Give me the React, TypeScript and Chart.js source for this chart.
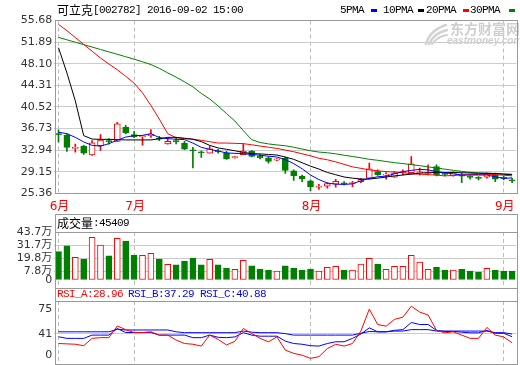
import React, { useEffect, useRef } from "react";
import { Chart, registerables } from "chart.js";

Chart.register(...registerables);

// ---------- data ----------
const dates = [
  "06-20","06-21","06-22","06-23","06-24","06-27","06-28","06-29","06-30",
  "07-01","07-04","07-05","07-06","07-07","07-08","07-11","07-12","07-13","07-14","07-15",
  "07-18","07-19","07-20","07-21","07-22","07-25","07-26","07-27","07-28","07-29",
  "08-01","08-02","08-03","08-04","08-05","08-08","08-09","08-10","08-11","08-12",
  "08-15","08-16","08-17","08-18","08-19","08-22","08-23","08-24","08-25","08-26",
  "08-29","08-30","08-31","09-01","09-02",
];

const opens = [
  35.85,35.62,33.28,33.68,32.10,33.73,34.62,34.49,36.96,35.67,
  35.32,35.50,35.06,34.03,34.56,34.21,33.03,32.62,32.41,32.80,
  32.45,31.62,32.15,32.77,31.88,31.62,31.18,31.53,29.33,28.39,
  27.56,26.46,26.63,26.98,27.16,27.12,27.44,28.04,29.20,28.59,
  28.22,28.98,29.03,28.98,28.89,30.09,28.80,28.45,28.48,28.27,
  28.09,28.22,28.62,28.09,27.65,
];
const highs = [
  36.50,35.80,34.00,33.82,34.62,35.67,34.97,37.82,37.31,36.26,
  35.55,36.56,35.37,35.09,35.09,34.49,33.47,32.85,33.65,33.12,
  32.73,31.88,34.09,32.94,32.24,31.85,31.50,31.74,29.50,28.57,
  27.74,26.95,27.26,27.83,27.44,27.48,28.04,30.69,29.50,29.03,
  29.20,29.50,31.85,29.80,30.38,30.38,29.03,29.15,28.92,28.45,
  28.33,28.92,28.92,28.36,28.04,
];
const lows = [
  34.40,32.73,32.59,32.22,32.05,32.91,34.00,34.44,35.80,35.14,
  33.82,35.20,34.62,34.00,34.03,33.03,29.86,31.67,32.41,32.41,
  31.32,31.57,32.15,31.79,31.44,30.69,31.10,28.89,27.65,27.42,
  25.86,26.07,26.28,26.46,26.86,26.56,27.26,27.86,28.53,27.86,
  28.20,28.62,28.92,28.62,28.62,28.45,28.45,28.39,27.26,27.86,
  27.74,28.04,27.44,27.74,27.26,
];
const closes = [
  35.67,33.44,33.38,32.45,34.26,34.74,34.44,37.58,35.97,35.32,
  35.41,35.76,34.88,34.49,34.44,33.12,32.85,32.50,33.21,32.68,
  31.44,31.83,32.80,31.88,31.62,31.00,31.44,29.42,28.48,27.95,
  26.51,26.54,27.12,27.48,27.07,27.21,27.86,29.68,28.62,28.66,
  28.92,29.06,30.56,29.06,28.98,28.62,28.71,29.03,28.39,28.18,
  28.00,28.75,27.86,28.00,27.56,
];

const ma5 = [
  36.1,35.85,35.2,34.4,33.8,33.65,34.1,34.7,35.25,35.5,
  35.55,35.85,35.15,34.98,34.86,34.8,34.2,33.45,33.1,32.8,
  32.47,32.4,32.36,32.2,32.06,31.9,31.76,31.3,30.6,29.7,
  28.6,27.8,27.2,27.0,26.95,27.05,27.6,28.0,28.3,28.4,
  28.8,29.2,29.4,29.6,29.5,29.2,29.0,28.8,28.6,28.6,
  28.6,28.6,28.3,28.0,28.1,
];
const ma10 = [
  50.9,46.5,41.6,35.5,34.9,34.85,34.85,34.8,34.75,34.75,
  34.75,34.75,34.95,35.2,35.2,35.05,34.85,34.45,33.8,33.35,
  33.1,32.85,32.55,32.35,32.3,32.2,32.1,31.75,31.35,30.75,
  30.15,29.65,29.05,28.65,28.25,28.05,27.9,27.9,28.05,28.25,
  28.45,28.6,28.75,28.95,29.0,29.05,29.05,29.05,29.0,28.95,
  28.9,28.9,28.85,28.75,28.65,
];
const ma20 = [
  55.0,53.9,52.7,51.5,50.3,49.1,48.05,47.05,45.9,44.7,
  43.0,40.8,38.4,35.85,35.15,34.95,34.9,34.67,34.44,34.2,
  34.2,34.15,34.1,33.9,33.68,33.47,33.26,32.97,32.68,32.32,
  31.97,31.53,31.27,30.9,30.47,30.03,29.77,29.5,29.33,29.2,
  29.12,29.03,28.8,28.75,28.66,28.57,28.45,28.53,28.62,28.66,
  28.7,28.75,28.66,28.57,28.45,
];
const ma30 = [
  52.72,52.3,51.87,51.45,51.03,50.6,50.18,49.76,49.33,48.9,
  48.45,47.96,47.3,46.5,45.76,44.93,44.05,42.9,41.93,40.7,
  39.38,38.05,36.38,34.79,34.3,34.05,33.87,33.73,33.47,33.15,
  32.85,32.62,32.5,32.32,32.06,31.85,31.62,31.35,31.18,30.97,
  30.77,30.6,30.42,30.24,30.03,29.82,29.63,29.42,29.24,29.06,
  28.97,28.92,28.87,28.8,28.75,
];

// volume in 万
const volumes = [
  25.8,31.0,20.6,19.1,38.9,31.9,21.9,38.0,35.5,22.8,
  22.5,24.3,19.1,14.3,13.7,17.3,20.0,13.7,18.8,13.7,
  10.9,9.7,17.9,12.8,10.0,9.1,8.2,12.8,10.9,9.1,
  10.0,8.2,11.5,12.5,9.1,9.1,14.6,19.7,14.6,9.7,
  12.5,12.5,22.5,16.4,9.7,11.5,9.1,9.1,9.7,8.2,
  7.3,10.6,9.1,8.2,8.2,
];

const rsiA = [
  28,27.5,27,25,35,36,36,52,47,43,
  43,44,39.5,39.5,32.7,28,27,24.5,39.5,33.6,
  26,31,48.5,41.7,35,30.4,37,19,14.5,12,
  7.7,10,21,27,24.5,28,45,75,54,51.7,
  61,64,79,71,67,46,42.6,44,39.5,35,
  35,50,39.5,37,28.96,
];
const rsiB = [
  37.2,35,35,35,39.5,39.5,39.5,48.5,43,43,
  43,43,39.5,39.5,39.5,39.5,36,36,39.5,36.5,
  36,37,42.8,39.5,38,38,38,31.3,28,27,
  25,24.5,28,30.4,30.4,35,41,49.4,44,44,
  46,47,56.7,54,54,45.8,44.5,44.5,43.5,42.6,
  42.6,45.8,42,42,37.29,
];
const rsiC = [
  44,44,44,44,44,44,44,47.5,46.5,46.5,
  46.5,46.5,46.5,46.5,44,42.8,42.8,42.8,42.8,42.8,
  42.8,42.8,45,43.5,42.8,42.8,42.8,41.5,39.5,39.5,
  39.5,39.5,39.5,39.5,39.5,39.5,42,44.5,44,44,
  45,45,47,47,47,45,45,45,45,45,
  45,45,42.8,42.8,40.88,
];

const priceTicks = [25.36, 29.15, 32.94, 36.73, 40.52, 44.31, 48.10, 51.89, 55.68];
const volTicks = [0, 7.8, 19.8, 31.7, 43.7];
const rsiTicks = [0, 41, 75];

const titleText = "可立克[002782] 2016-09-02 15:00";
const volHeader = "成交量:45409";
const rsiHeaders = ["RSI_A:28.96", "RSI_B:37.29", "RSI_C:40.88"];
const maNames = ["5PMA", "10PMA", "20PMA", "30PMA"];

// ---------- style ----------
const RED = "#ff0000";
const GREEN = "#008000";
const BLUE = "#0000ff";
const BLACK = "#000000";
const FRAME = "#999999";
const GRID = "#cccccc";
const DASH = "#bbbbbb";
const TXT = "#333333";
const CLEAR = "rgba(0,0,0,0)";
const LEFT = 54.3;
const RPAD = 3.7;
const FL = 55.5;
const FR = 517.5;
const tickFont = { family: "'DejaVu Sans', 'Noto Sans CJK SC', sans-serif", size: 11 };

const up = closes.map((c, i) => c >= opens[i]);

function isMonthStart(i: number) {
  return i === 0 || (dates[i] && dates[i - 1] && dates[i].slice(0, 2) !== dates[i - 1].slice(0, 2));
}
function monthLabel(i: number) {
  return isMonthStart(i) ? parseInt(dates[i].slice(0, 2), 10) + "月" : "";
}

function hline(ctx: any, x1: number, x2: number, y: number, color: string) {
  ctx.save();
  ctx.strokeStyle = color;
  ctx.lineWidth = 1;
  ctx.beginPath();
  ctx.moveTo(x1, y);
  ctx.lineTo(x2, y);
  ctx.stroke();
  ctx.restore();
}
function vline(ctx: any, x: number, y1: number, y2: number, color: string) {
  ctx.save();
  ctx.strokeStyle = color;
  ctx.lineWidth = 1;
  ctx.beginPath();
  ctx.moveTo(x, y1);
  ctx.lineTo(x, y2);
  ctx.stroke();
  ctx.restore();
}
function drawMixed(ctx: any, text: string, x: number, y: number, color: string) {
  ctx.save();
  ctx.fillStyle = color;
  ctx.textBaseline = "middle";
  ctx.textAlign = "left";
  for (const ch of text) {
    if (ch.charCodeAt(0) > 255) {
      ctx.font = "12px 'Noto Sans CJK SC'";
      ctx.fillText(ch, x, y);
      x += 12;
    } else {
      ctx.font = "11px 'Liberation Mono'";
      ctx.fillText(ch, x, y);
      x += 6;
    }
  }
  ctx.restore();
  return x;
}

function xScale(showLabels: boolean, height: number) {
  return {
    type: "category",
    offset: true,
    grid: {
      offset: false,
      drawTicks: false,
      lineWidth: 1,
      color: (c: any) => (isMonthStart(c.index) ? DASH : CLEAR),
    },
    border: { display: false, dash: [4, 3] },
    ticks: {
      display: showLabels,
      autoSkip: false,
      maxRotation: 0,
      minRotation: 0,
      padding: 6,
      labelOffset: 1,
      color: RED,
      font: { family: "'DejaVu Sans', 'Noto Sans CJK SC', sans-serif", size: 12 },
      callback: (_v: any, i: number) => monthLabel(i),
    },
    afterFit: (s: any) => {
      s.height = height;
      s.paddingLeft = 0;
      s.paddingRight = 0;
    },
  };
}

function yFit(s: any) {
  s.width = LEFT;
  s.paddingTop = 0;
  s.paddingBottom = 0;
}

const baseOptions = (top: number, bottom: number) => ({
  responsive: false,
  maintainAspectRatio: false,
  animation: false,
  events: [],
  layout: { padding: { top, right: RPAD, left: 0, bottom } },
  plugins: { legend: { display: false }, tooltip: { enabled: false }, title: { display: false } },
});

function drawLogo(ctx: any) {
  ctx.save();
  ctx.strokeStyle = "#d2d2d2";
  ctx.lineCap = "round";
  const strokes = [
    [426, 44, 430, 30, 446, 25, 2.5],
    [429, 44, 434, 33, 447, 30, 2.5],
    [432, 44, 438, 36, 447, 35, 2],
  ];
  strokes.forEach(([x0, y0, cx, cy, x1, y1, w]) => {
    ctx.lineWidth = w;
    ctx.beginPath();
    ctx.moveTo(x0, y0);
    ctx.quadraticCurveTo(cx, cy, x1, y1);
    ctx.stroke();
  });
  ctx.restore();
}

function mainConfig(): any {
  const maColors = [BLUE, BLACK, RED, GREEN];
  const maData = [ma5, ma10, ma20, ma30];
  return {
    type: "bar",
    data: {
      labels: dates,
      datasets: [
        ...maData.map((d, k) => ({
          type: "line",
          label: maNames[k],
          data: d,
          borderColor: maColors[k],
          borderWidth: 1,
          pointRadius: 0,
          tension: 0,
          fill: false,
          order: 1,
        })),
        {
          type: "bar",
          label: "body",
          data: opens.map((o, i) => [o, closes[i]]),
          backgroundColor: up.map((u) => (u ? "#ffffff" : GREEN)),
          borderColor: up.map((u) => (u ? RED : GREEN)),
          borderWidth: 1,
          borderSkipped: false,
          barThickness: 6,
          minBarLength: 1,
          grouped: false,
          order: 5,
        },
        {
          type: "bar",
          label: "wick",
          data: lows.map((l, i) => [l, highs[i]]),
          backgroundColor: up.map((u) => (u ? RED : GREEN)),
          borderWidth: 0,
          barThickness: 1,
          minBarLength: 1,
          grouped: false,
          order: 6,
        },
      ],
    },
    options: {
      ...baseOptions(20.5, 0),
      scales: {
        x: xScale(true, 20.5),
        y: {
          min: 25.36,
          max: 55.68,
          afterBuildTicks: (s: any) => {
            s.ticks = priceTicks.map((v) => ({ value: v }));
          },
          afterFit: yFit,
          grid: {
            drawTicks: false,
            color: (c: any) => (c.index === 0 || c.index === priceTicks.length - 1 ? CLEAR : GRID),
          },
          border: { display: false },
          ticks: {
            autoSkip: false,
            padding: 2,
            color: TXT,
            font: tickFont,
            callback: (v: any) => Number(v).toFixed(2),
          },
        },
      },
    },
    plugins: [
      {
        id: "mainDecor",
        beforeDatasetsDraw(chart: any) {
          const ctx = chart.ctx;
          drawLogo(ctx);
          ctx.save();
          ctx.fillStyle = "#cfcfcf";
          ctx.textBaseline = "middle";
          ctx.font = "bold 14px 'Noto Sans CJK SC'";
          ctx.fillText("东方财富网", 450, 29);
          ctx.font = "bold italic 10px 'Liberation Sans'";
          ctx.fillText("eastmoney.com", 447, 41);
          ctx.restore();
        },
        afterDraw(chart: any) {
          const ctx = chart.ctx;
          const { top, bottom } = chart.chartArea;
          hline(ctx, FL - 0.5, FR + 0.5, top, FRAME);
          hline(ctx, FL - 0.5, FR + 0.5, bottom, FRAME);
          vline(ctx, FL, top, bottom, FRAME);
          vline(ctx, FR, top, bottom, FRAME);
          drawMixed(ctx, titleText, 57, 10, "#000");
          const legX = [340, 383, 426, 470];
          const boxX = [371, 418, 463, 509];
          const cols = [BLUE, BLACK, RED, GREEN];
          maNames.forEach((n, k) => {
            drawMixed(ctx, n, legX[k], 10, "#000");
            ctx.save();
            ctx.fillStyle = cols[k];
            ctx.fillRect(boxX[k], 9, 6, 3);
            ctx.restore();
          });
        },
      },
    ],
  };
}

function volConfig(): any {
  return {
    type: "bar",
    data: {
      labels: dates,
      datasets: [
        {
          label: "成交量",
          data: volumes,
          backgroundColor: up.map((u) => (u ? "#ffffff" : GREEN)),
          borderColor: up.map((u) => (u ? RED : GREEN)),
          borderWidth: 1,
          borderSkipped: false,
          barThickness: 6,
          grouped: false,
        },
      ],
    },
    options: {
      ...baseOptions(18, 0),
      scales: {
        x: xScale(false, 0),
        y: {
          min: -7.28,
          max: 43.7,
          afterBuildTicks: (s: any) => {
            s.ticks = volTicks.map((v) => ({ value: v }));
          },
          afterFit: yFit,
          grid: {
            drawTicks: false,
            color: (c: any) => (c.index === 0 || c.index === volTicks.length - 1 ? CLEAR : GRID),
          },
          border: { display: false },
          ticks: {
            autoSkip: false,
            padding: 2,
            color: TXT,
            font: tickFont,
            callback: (v: any) => (Number(v) === 0 ? "0" : Number(v).toFixed(1) + "万"),
          },
        },
      },
    },
    plugins: [
      {
        id: "volDecor",
        afterDraw(chart: any) {
          const ctx = chart.ctx;
          const { top, bottom } = chart.chartArea;
          hline(ctx, FL - 0.5, FR + 0.5, 0.5, FRAME);
          hline(ctx, FL - 0.5, FR + 0.5, top + 0.5, FRAME);
          vline(ctx, FL, 0, bottom, FRAME);
          vline(ctx, FR, 0, bottom, FRAME);
          drawMixed(ctx, volHeader, 57, 9.5, "#000");
        },
      },
    ],
  };
}

function rsiConfig(): any {
  const cols = [RED, BLUE, BLUE];
  const data = [rsiA, rsiB, rsiC];
  return {
    type: "line",
    data: {
      labels: dates,
      datasets: data.map((d, k) => ({
        label: rsiHeaders[k],
        data: d,
        borderColor: cols[k],
        borderWidth: 1,
        pointRadius: 0,
        tension: 0,
        fill: false,
      })),
    },
    options: {
      ...baseOptions(13, 1),
      scales: {
        x: xScale(false, 0),
        y: {
          min: 0,
          max: 86.1,
          afterBuildTicks: (s: any) => {
            s.ticks = rsiTicks.map((v) => ({ value: v }));
          },
          afterFit: yFit,
          grid: {
            drawTicks: false,
            color: (c: any) => (c.index === 1 ? GRID : CLEAR),
          },
          border: { display: false },
          ticks: {
            autoSkip: false,
            padding: 2,
            color: TXT,
            font: { ...tickFont, lineHeight: 1.6 },
            callback: (v: any) => (Number(v) === 0 ? ["0", ""] : String(v)),
          },
        },
      },
    },
    plugins: [
      {
        id: "rsiDecor",
        afterDraw(chart: any) {
          const ctx = chart.ctx;
          const { top, bottom } = chart.chartArea;
          hline(ctx, FL - 0.5, FR + 0.5, 0.5, FRAME);
          hline(ctx, FL - 0.5, FR + 0.5, top + 0.5, FRAME);
          hline(ctx, FL - 0.5, FR + 0.5, bottom + 0.5, FRAME);
          vline(ctx, FL, 0, bottom + 1, FRAME);
          vline(ctx, FR, 0, bottom + 1, FRAME);
          const xs = [57, 128, 200];
          rsiHeaders.forEach((h, k) => drawMixed(ctx, h, xs[k], 6.5, cols[k]));
        },
      },
    ],
  };
}

export default function App() {
  const refA = useRef<HTMLCanvasElement>(null);
  const refB = useRef<HTMLCanvasElement>(null);
  const refC = useRef<HTMLCanvasElement>(null);

  useEffect(() => {
    const charts: Chart[] = [];
    if (refA.current) charts.push(new Chart(refA.current, mainConfig()));
    if (refB.current) charts.push(new Chart(refB.current, volConfig()));
    if (refC.current) charts.push(new Chart(refC.current, rsiConfig()));
    return () => charts.forEach((c) => c.destroy());
  }, []);

  const cs = (top: number, h: number): React.CSSProperties => ({
    position: "absolute",
    left: 0,
    top,
    width: 520,
    height: h,
    display: "block",
  });

  return (
    <div style={{ position: "fixed", left: 0, top: 0, width: 520, height: 365, background: "#fff", overflow: "hidden" }}>
      <canvas ref={refA} width={520} height={214} style={cs(0, 214)} />
      <canvas ref={refB} width={520} height={74} style={cs(214, 74)} />
      <canvas ref={refC} width={520} height={77} style={cs(288, 77)} />
    </div>
  );
}
